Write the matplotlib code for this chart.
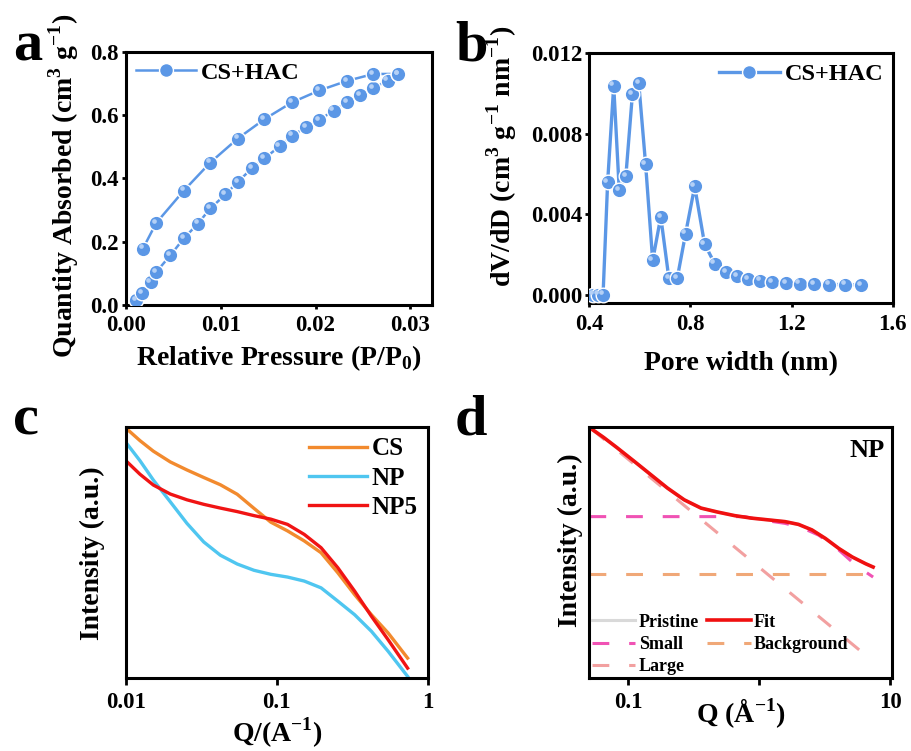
import numpy as np
import matplotlib
matplotlib.use("Agg")
import matplotlib.pyplot as plt
import matplotlib.transforms as mtransforms
from matplotlib.ticker import FixedLocator, NullLocator

plt.rcParams['font.family'] = ['Liberation Serif', 'DejaVu Serif']
plt.rcParams['font.weight'] = 'bold'
plt.rcParams['axes.labelweight'] = 'bold'
plt.rcParams['mathtext.fontset'] = 'custom'
plt.rcParams['mathtext.rm'] = 'Liberation Serif:bold'
plt.rcParams['mathtext.bf'] = 'Liberation Serif:bold'

# (a) isotherm
ads_p = [0.0011, 0.0017, 0.0026, 0.0032, 0.0047, 0.0061, 0.0076, 0.0089, 0.0105, 0.0118,
         0.0133, 0.0146, 0.0162, 0.0175, 0.0190, 0.0204, 0.0219, 0.0233, 0.0247, 0.0261,
         0.0276, 0.0287]
ads_q = [0.014, 0.038, 0.072, 0.104, 0.157, 0.210, 0.257, 0.305, 0.349, 0.389,
         0.432, 0.463, 0.501, 0.535, 0.561, 0.585, 0.614, 0.640, 0.662, 0.686,
         0.709, 0.730]
des_p = [0.0287, 0.0261, 0.0233, 0.0204, 0.0175, 0.0146, 0.0118, 0.0089, 0.0061, 0.0032, 0.0018]
des_q = [0.730, 0.730, 0.708, 0.678, 0.640, 0.587, 0.526, 0.450, 0.361, 0.259, 0.178]

# (b) pore size distribution
pore_w = [0.417, 0.436, 0.455, 0.473, 0.497, 0.519, 0.545, 0.571, 0.596, 0.623, 0.651,
          0.683, 0.715, 0.748, 0.781, 0.817, 0.856, 0.896, 0.940, 0.984, 1.029, 1.075,
          1.124, 1.177, 1.232, 1.288, 1.348, 1.411, 1.476]
pore_v = [0.0, 0.0, 0.0, 0.00558, 0.01039, 0.00518, 0.00589, 0.00998, 0.01051, 0.00649,
          0.00170, 0.00387, 0.00081, 0.00081, 0.00303, 0.00538, 0.00252, 0.00154, 0.00113,
          0.00093, 0.00078, 0.00070, 0.00063, 0.00058, 0.00055, 0.00053, 0.00050, 0.00050,
          0.00048]

# (c) SAXS curves, relative intensity (a.u.)
q_c = [0.0100, 0.0124, 0.0152, 0.0197, 0.0254, 0.0328, 0.0423, 0.0547, 0.0706,
       0.0912, 0.1178, 0.1521, 0.1965, 0.2538, 0.3278, 0.4233, 0.5467, 0.7356]
cs_i = [0.997, 0.947, 0.905, 0.862, 0.830, 0.800, 0.771, 0.733, 0.677,
        0.622, 0.587, 0.547, 0.500, 0.420, 0.333, 0.253, 0.180, 0.080]
np_i = [0.940, 0.867, 0.790, 0.703, 0.617, 0.543, 0.490, 0.455, 0.430,
        0.414, 0.403, 0.387, 0.360, 0.307, 0.253, 0.187, 0.107, 0.007]
np5_i = [0.867, 0.813, 0.770, 0.734, 0.711, 0.693, 0.678, 0.664, 0.648,
         0.634, 0.613, 0.573, 0.520, 0.440, 0.347, 0.247, 0.153, 0.040]

# (d) fit of NP
q_fit = [0.0528, 0.0650, 0.0823, 0.1105, 0.1485, 0.1995, 0.2681, 0.3600, 0.4837, 0.6499,
         0.8730, 1.173, 1.576, 1.995, 2.527, 3.200, 4.053, 5.132, 6.499, 7.399]
fit_i = [0.993, 0.960, 0.919, 0.866, 0.812, 0.758, 0.711, 0.678, 0.662, 0.648,
         0.638, 0.631, 0.624, 0.613, 0.591, 0.557, 0.517, 0.483, 0.456, 0.443]
q_small = [0.0507, 0.7757, 0.873, 1.173, 1.576, 2.116, 2.844, 3.819, 5.132, 6.499, 7.399]
small_i = [0.644, 0.644, 0.638, 0.627, 0.617, 0.600, 0.570, 0.523, 0.463, 0.423, 0.403]
q_bg = [0.0507, 7.8]
bg_i = [0.416, 0.416]
q_large = [0.0528, 7.40]
large_i = [0.993, 0.067]

blue = '#5b97e6'
fig = plt.figure(figsize=(9.12, 7.51), dpi=100)

def style(ax, tlen):
    for s in ax.spines.values():
        s.set_linewidth(2.2)
    ax.tick_params(direction='out', width=2, length=tlen, labelsize=16.5, pad=2)

def balls(ax, x, y, ms):
    ax.plot(x, y, 'o', color=blue, ms=ms, mec='white', mew=1.0, zorder=3)
    shift = mtransforms.ScaledTranslation(-1.6 / 72, 1.6 / 72, fig.dpi_scale_trans)
    ax.plot(x, y, 'o', color='#b4d0f6', ms=ms * 0.32, mec='none', zorder=4,
            transform=ax.transData + shift)

# ---- a
ax = fig.add_axes([0.138, 0.594, 0.336, 0.337])
ax.plot(ads_p, ads_q, '-', color=blue, lw=1.8, zorder=2)
ax.plot(des_p, des_q, '-', color=blue, lw=1.8, zorder=2)
balls(ax, ads_p, ads_q, 10.5)
balls(ax, des_p, des_q, 10.5)
h, = ax.plot([], [], '-o', color=blue, lw=1.8, ms=10, mec='white', mew=1)
ax.legend([h], ['CS+HAC'], loc='upper left', frameon=False, fontsize=17.5,
          handlelength=2.5, borderaxespad=0.1, handletextpad=0.2, borderpad=0.3)
ax.set_xlim(0, 0.0323)
ax.set_ylim(0, 0.8)
ax.set_xticks([0.0, 0.01, 0.02, 0.03])
ax.set_xticklabels(['0.00', '0.01', '0.02', '0.03'])
ax.set_yticks([0.0, 0.2, 0.4, 0.6, 0.8])
ax.set_xlabel('Relative Pressure (P/P$_0$)', fontsize=20, labelpad=5)
ax.set_ylabel('Quantity Absorbed (cm$^3$ g$^{-1}$)', fontsize=20)
ax.yaxis.set_label_coords(-0.145, 0.47)
style(ax, 3)
ax.tick_params(axis='x', pad=4.5)

# ---- b
ax = fig.add_axes([0.646, 0.597, 0.333, 0.332])
ax.plot(pore_w, pore_v, '-', color=blue, lw=2.4, zorder=2)
balls(ax, pore_w, pore_v, 10.5)
h, = ax.plot([], [], '-o', color=blue, lw=2.4, ms=10, mec='white', mew=1)
ax.legend([h], ['CS+HAC'], loc='upper right', frameon=False, fontsize=17.5,
          handlelength=2.5, borderaxespad=0.1, handletextpad=0.2, borderpad=0.3)
ax.set_xlim(0.4, 1.6)
ax.set_ylim(-0.0004, 0.012)
ax.set_xticks([0.4, 0.8, 1.2, 1.6])
ax.set_yticks([0.0, 0.004, 0.008, 0.012])
ax.set_yticklabels(['0.000', '0.004', '0.008', '0.012'])
ax.set_xlabel('Pore width (nm)', fontsize=20, labelpad=12)
ax.set_ylabel('dV/dD (cm$^3$ g$^{-1}$ nm$^{-1}$)', fontsize=20)
ax.yaxis.set_label_coords(-0.232, 0.588)
style(ax, 3)
ax.tick_params(axis='x', pad=5)

# ---- c
ax = fig.add_axes([0.138, 0.097, 0.331, 0.334])
ax.plot(q_c, cs_i, color='#f28a2e', lw=2.4, label='CS')
ax.plot(q_c, np_i, color='#4fc6f0', lw=2.4, label='NP')
ax.plot(q_c, np5_i, color='#f01414', lw=2.4, label='NP5')
ax.set_xscale('log')
ax.set_xlim(0.01, 1)
ax.set_ylim(0, 1)
ax.xaxis.set_major_locator(FixedLocator([0.01, 0.1, 1]))
ax.xaxis.set_minor_locator(NullLocator())
ax.set_xticklabels(['0.01', '0.1', '1'])
ax.set_yticks([])
ax.legend(loc='upper right', frameon=False, fontsize=18, handlelength=2.3,
          labelspacing=0.25, borderaxespad=0.1, handletextpad=0.2, borderpad=0.3)
ax.set_xlabel('Q/(A$^{-1}$)', fontsize=20, labelpad=2)
ax.set_ylabel('Intensity (a.u.)', fontsize=20)
ax.yaxis.set_label_coords(-0.07, 0.5)
style(ax, 5)
ax.tick_params(axis='x', pad=5)

# ---- d
ax = fig.add_axes([0.646, 0.097, 0.332, 0.334])
dash = (5.5, 6.5)
hp, = ax.plot(q_fit, fit_i, color='#d9d9d9', lw=2.2, label='Pristine')
hl, = ax.plot(q_large, large_i, color='#f2a0a0', lw=2.2, dashes=dash, label='Large')
hs, = ax.plot(q_small, small_i, color='#f052b4', lw=2.2, dashes=dash, label='Small')
hb, = ax.plot(q_bg, bg_i, color='#f0a878', lw=2.2, dashes=dash, label='Background')
hf, = ax.plot(q_fit, fit_i, color='#f01010', lw=2.6, label='Fit')
ax.set_xscale('log')
ax.set_xlim(0.0505, 10.3)
ax.set_ylim(0, 1)
ax.xaxis.set_major_locator(FixedLocator([0.1, 1, 10]))
ax.xaxis.set_minor_locator(NullLocator())
ax.set_xticklabels(['0.1', '', '10'])
ax.set_yticks([])
ax.legend([hp, hs, hl, hf, hb], ['Pristine', 'Small', 'Large', 'Fit', 'Background'],
          loc='lower left', ncol=2, frameon=False, fontsize=13, handlelength=2.4,
          labelspacing=0.3, columnspacing=0.45, borderaxespad=0.0, borderpad=0.15,
          handletextpad=0.2)
ax.text(0.975, 0.955, 'NP', transform=ax.transAxes, ha='right', va='top', fontsize=19)
ax.set_xlabel('Q (Å$^{-1}$)', fontsize=20, labelpad=-12)
ax.set_ylabel('Intensity (a.u.)', fontsize=20)
ax.yaxis.set_label_coords(-0.02, 0.55)
style(ax, 5)
ax.tick_params(axis='x', pad=5)

for x, y, t in [(0.014, 0.920, 'a'), (0.499, 0.920, 'b'), (0.014, 0.421, 'c'), (0.499, 0.421, 'd')]:
    fig.text(x, y, t, fontsize=42, va='baseline', ha='left')

fig.savefig('out.png', dpi=100)
